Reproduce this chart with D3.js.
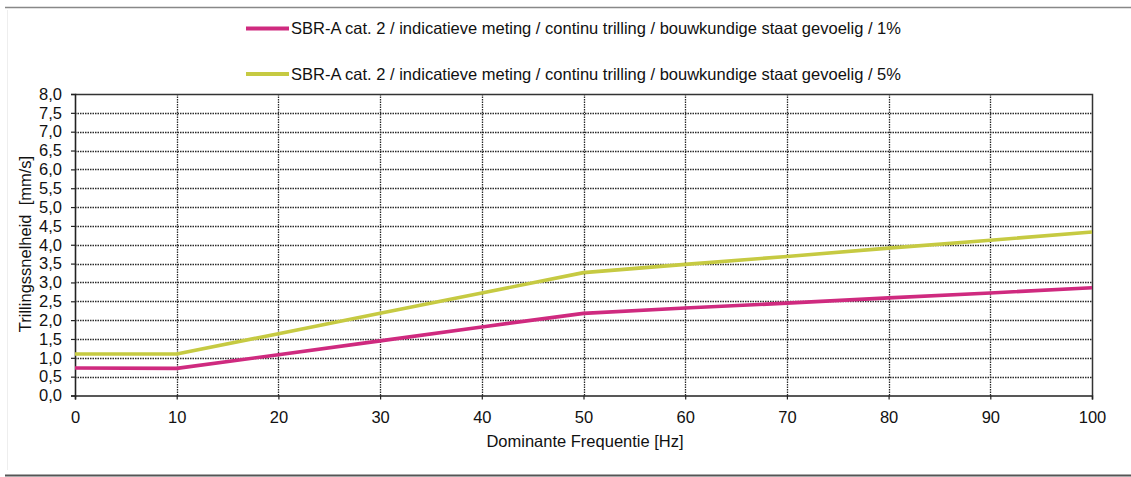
<!DOCTYPE html>
<html>
<head>
<meta charset="utf-8">
<script src="https://cdn.jsdelivr.net/npm/d3@7"></script>
<style>
  body { margin: 0; background: #fff; }
  text { font-family: "Liberation Sans", Arial, sans-serif; fill: #111; }
</style>
</head>
<body>
<div id="chart"></div>
<script>
var width = 1131,
    height = 477;

// data
var freq = [0, 10, 20, 30, 40, 50, 60, 70, 80, 90, 100];
var pct1 = [0.73, 0.72, 1.08, 1.45, 1.82, 2.18, 2.32, 2.45, 2.59, 2.72, 2.86];
var pct5 = [1.10, 1.10, 1.64, 2.18, 2.72, 3.26, 3.48, 3.69, 3.91, 4.12, 4.34];
var seriesNames = [
    'SBR-A cat. 2 / indicatieve meting / continu trilling / bouwkundige staat gevoelig / 1%',
    'SBR-A cat. 2 / indicatieve meting / continu trilling / bouwkundige staat gevoelig / 5%'
];
var xTicks = [0, 10, 20, 30, 40, 50, 60, 70, 80, 90, 100];
var yTicks = d3.range(0, 8.01, 0.5);

var colors = ['#cf2a7f', '#c6ca42'];

var svg = d3.select('#chart')
    .append('svg')
    .attr('width', width)
    .attr('height', height);

// frame lines of the scan
svg.append('line').attr('x1', 5).attr('x2', width).attr('y1', 7.5).attr('y2', 7.5)
    .attr('stroke', '#888').attr('stroke-width', 1.5);
svg.append('line').attr('x1', 5).attr('x2', width).attr('y1', 475.5).attr('y2', 475.5)
    .attr('stroke', '#555').attr('stroke-width', 2);
svg.append('line').attr('x1', 7.5).attr('x2', 7.5).attr('y1', 10).attr('y2', 470)
    .attr('stroke', '#eee').attr('stroke-width', 1);

var x = d3.scaleLinear().domain([0, 100]).range([75, 1092]);
var y = d3.scaleLinear().domain([0, 8]).range([395.5, 94]);

// grid
var grid = svg.append('g');
grid.selectAll('.hgrid')
    .data(yTicks.slice(1, -1))
    .enter()
    .append('line')
    .attr('class', 'hgrid')
    .attr('x1', x(0)).attr('x2', x(100))
    .attr('y1', function (d) { return Math.round(y(d)) + 0.5; })
    .attr('y2', function (d) { return Math.round(y(d)) + 0.5; })
    .attr('stroke', '#2a2a2a')
    .attr('stroke-width', 1.4)
    .attr('stroke-dasharray', '1.5,1');
grid.selectAll('.vgrid')
    .data(xTicks.slice(1, -1))
    .enter()
    .append('line')
    .attr('class', 'vgrid')
    .attr('y1', y(0)).attr('y2', y(8))
    .attr('x1', function (d) { return Math.round(x(d)) + 0.5; })
    .attr('x2', function (d) { return Math.round(x(d)) + 0.5; })
    .attr('stroke', '#2a2a2a')
    .attr('stroke-width', 1.3)
    .attr('stroke-dasharray', '1.5,1');

// plot border top / right
svg.append('path')
    .attr('d', 'M' + x(0) + ',' + (Math.round(y(8)) + 0.5) + 'H' + (Math.round(x(100)) + 0.5) + 'V' + y(0))
    .attr('fill', 'none')
    .attr('stroke', '#333')
    .attr('stroke-width', 1.5);

// axes
var xAxis = svg.append('g')
    .attr('transform', 'translate(0,' + y(0) + ')')
    .call(d3.axisBottom(x).tickValues(xTicks).tickSize(4).tickPadding(9)
        .tickFormat(d3.format('d')));
var yAxis = svg.append('g')
    .attr('transform', 'translate(' + x(0) + ',0)')
    .call(d3.axisLeft(y).tickValues(yTicks).tickSize(4).tickPadding(9)
        .tickFormat(function (d) { return d3.format('.1f')(d).replace('.', ','); }));

[xAxis, yAxis].forEach(function (a) {
    a.selectAll('.domain').attr('stroke', '#222').attr('stroke-width', 1.6);
    a.selectAll('.tick line').attr('stroke', '#222').attr('stroke-width', 1.2);
    a.selectAll('text')
        .attr('fill', '#111')
        .style('font-family', '"Liberation Sans", Arial, sans-serif')
        .style('font-size', '16.5px');
});
xAxis.selectAll('text').attr('dy', '0.85em');

// axis titles
svg.append('text')
    .attr('x', 585)
    .attr('y', 447)
    .attr('text-anchor', 'middle')
    .style('font-size', '16.5px')
    .text('Dominante Frequentie [Hz]');
svg.append('text')
    .attr('transform', 'translate(31,244) rotate(-90)')
    .attr('text-anchor', 'middle')
    .style('font-size', '16.5px')
    .text('Trillingssnelheid\u00a0\u00a0[mm/s]');

// lines
var line = d3.line()
    .x(function (d, i) { return x(freq[i]); })
    .y(function (d) { return y(d); });

[pct5, pct1].forEach(function (s, k) {
    svg.append('path')
        .datum(s)
        .attr('d', line)
        .attr('fill', 'none')
        .attr('stroke', k === 0 ? colors[1] : colors[0])
        .attr('stroke-width', 3.6)
        .attr('stroke-linejoin', 'round');
});

// legend
var legend = svg.selectAll('.legend')
    .data(seriesNames)
    .enter()
    .append('g')
    .attr('class', 'legend')
    .attr('transform', function (d, i) { return 'translate(246,' + (28.5 + i * 45.5) + ')'; });
legend.append('line')
    .attr('x1', 0).attr('x2', 43)
    .attr('stroke', function (d, i) { return colors[i]; })
    .attr('stroke-width', 4);
legend.append('text')
    .attr('x', 45)
    .attr('dy', '0.36em')
    .style('font-size', '16.5px')
    .text(function (d) { return d; });
</script>
</body>
</html>
